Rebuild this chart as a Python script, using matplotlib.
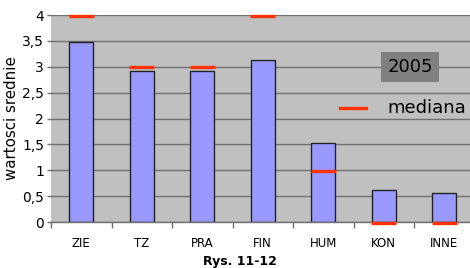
import matplotlib
matplotlib.use("Agg")
import matplotlib.pyplot as plt
import numpy as np

categories = ["ZIE", "TZ", "PRA", "FIN", "HUM", "KON", "INNE"]
means = [3.48, 2.92, 2.92, 3.13, 1.53, 0.62, 0.56]
medians = [4.0, 3.0, 3.0, 4.0, 1.0, 0.0, 0.0]
yticks = [0, 0.5, 1, 1.5, 2, 2.5, 3, 3.5, 4]
ytick_labels = ["0", "0,5", "1", "1,5", "2", "2,5", "3", "3,5", "4"]

plt.rcParams['font.family'] = ['DejaVu Sans']

fig = plt.figure(figsize=(4.7, 2.68), dpi=100)
ax = fig.add_axes([51/470, 46/268, 423.5/470, 207/268])
ax.set_facecolor("#c0c0c0")

x = np.arange(len(categories))
ax.bar(x, means, width=0.4, color="#9999ff", edgecolor="#222222", linewidth=1.0, zorder=3)
ax.hlines(np.array(medians) - 0.01, x - 0.21, x + 0.21, colors="#ff3300",
          linewidth=2.4, zorder=6, clip_on=False)

ax.set_xlim(-0.5, len(categories) - 0.5)
ax.set_ylim(0, 4)
ax.set_yticks(yticks)
ax.set_yticklabels(ytick_labels, fontsize=10)
ax.yaxis.grid(True, color="#707070", linewidth=1.0, zorder=1)
ax.set_axisbelow(True)

ax.set_xticks(x)
ax.set_xticklabels(categories, fontsize=8.5)
ax.set_xticks(np.arange(len(categories) + 1) - 0.5, minor=True)
ax.tick_params(axis="x", which="major", length=0, pad=11)
ax.tick_params(axis="x", which="minor", length=4, color="#707070", width=1)
ax.tick_params(axis="y", length=3, color="#707070", width=1, pad=2)

for s in ["top", "right", "left"]:
    ax.spines[s].set_visible(False)
ax.spines["bottom"].set_color("#707070")
ax.spines["bottom"].set_linewidth(1.0)
ax.spines["bottom"].set_zorder(5)

ax.set_ylabel("wartosci srednie", fontsize=10.8, labelpad=2)

# legend-like annotations
fig.text(410/470, 1 - 67/268, "2005", fontsize=13, ha="center", va="center",
         bbox=dict(boxstyle="square,pad=0.35", facecolor="#808080", edgecolor="none"))
fig.add_artist(plt.Line2D([340/470, 366/470], [1 - 108/268, 1 - 108/268],
                          color="#ff3300", linewidth=2.4))
fig.text(387/470, 1 - 108/268, "mediana", fontsize=13, ha="left", va="center")

fig.text(240/470, 1 - 262/268, "Rys. 11-12", fontsize=9, fontweight="bold",
         ha="center", va="center")

fig.savefig("out.png", dpi=100)
